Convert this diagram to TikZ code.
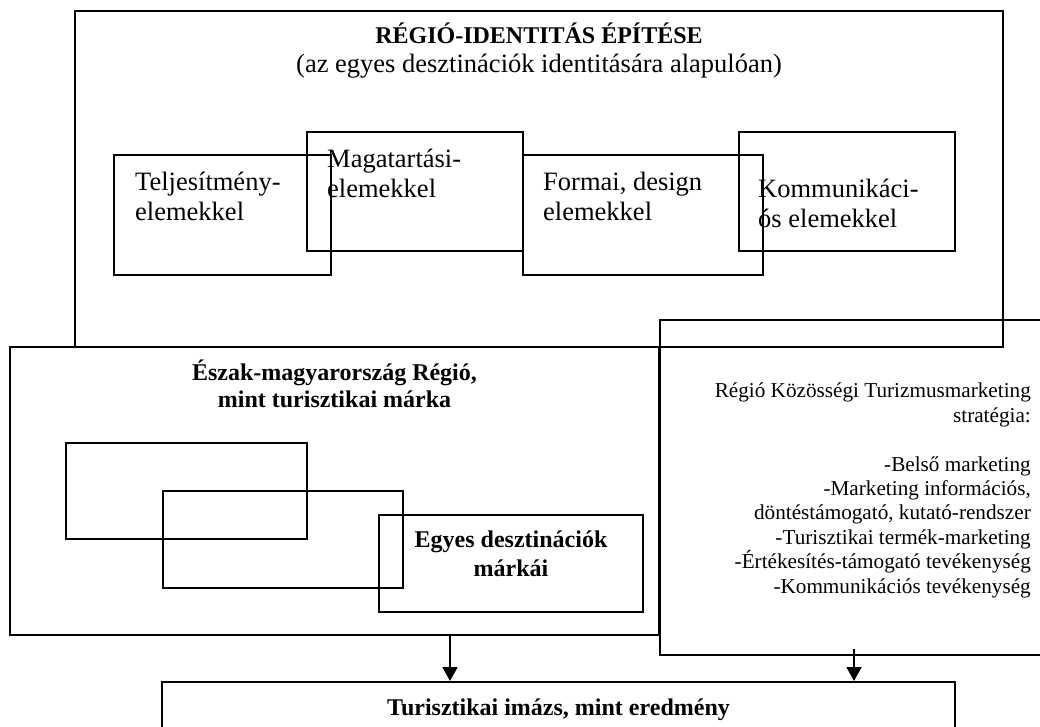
\documentclass[tikz,border=0pt]{standalone}
\usepackage{fontspec}
\setmainfont{Liberation Serif}
\usepackage{tikz}
\usetikzlibrary{arrows.meta,positioning}
\tikzset{
  box/.style={draw, line width=2pt, inner sep=0pt, anchor=north west},
  txt/.style={inner sep=0pt, align=left, font=\fontsize{26.5}{30}\selectfont},
  head/.style={inner sep=0pt, align=center, font=\bfseries\fontsize{24}{28}\selectfont},
  plain/.style={inner sep=0pt, align=right, font=\fontsize{21.2}{24.4}\selectfont},
  arrow/.style={-{Triangle[length=14pt, width=15pt]}, line width=1.8pt},
}
\begin{document}
\begin{tikzpicture}[x=1pt, y=-1pt]
\useasboundingbox (0,0) rectangle (1040,726);
\clip (0,0) rectangle (1040,726);

% Top: region identity
\node[box, minimum width=928pt, minimum height=336pt] (ident) at (74,10) {};
\node[head, anchor=base] (identtitle) at ([yshift=-33pt]ident.north) {RÉGIÓ-IDENTITÁS ÉPÍTÉSE};
\node[inner sep=0pt, anchor=base, font=\fontsize{26.5}{30}\selectfont] (identsub) at ([yshift=-62pt]ident.north) {(az egyes desztinációk identitására alapulóan)};

\node[box, minimum width=217pt, minimum height=120pt] (telj) at (113,154) {};
\node[box, minimum width=216pt, minimum height=119pt] (maga) at (306,131) {};
\node[box, minimum width=240pt, minimum height=120pt] (formai) at (522,154) {};
\node[box, minimum width=216pt, minimum height=119pt] (komm) at (738,131) {};
\node[txt, anchor=base west] (telj-t) at ([shift={(22,66)}]telj.north west) {Teljesítmény-\\elemekkel};
\node[txt, anchor=base west] (maga-t) at ([shift={(21,66)}]maga.north west) {Magatartási-\\elemekkel};
\node[txt, anchor=base west] (formai-t) at ([shift={(21,66)}]formai.north west) {Formai, design\\elemekkel};
\node[txt, anchor=base west] (komm-t) at ([shift={(20,96)}]komm.north west) {Kommunikáci-\\ós elemekkel};

% Left: region brand
\node[box, minimum width=649pt, minimum height=288pt] (eszak) at (9,346) {};
\node[head, anchor=base, font=\bfseries\fontsize{24}{27}\selectfont] (eszak-t) at ([yshift=-61pt]eszak.north) {Észak-magyarország Régió,\\mint turisztikai márka};
\node[box, minimum width=241pt, minimum height=96pt] (brand1) at (65,442) {};
\node[box, minimum width=240pt, minimum height=97pt] (brand2) at (162,490) {};
\node[box, minimum width=264pt, minimum height=97pt] (dest) at (378,514) {};
\node[head, anchor=base, font=\bfseries\fontsize{24}{29}\selectfont] (dest-t) at ([yshift=-62pt]dest.north) {Egyes desztinációk\\márkái};

% Right: marketing strategy
\node[box, minimum width=400pt, minimum height=335pt] (strat) at (659,319) {};
\node[plain, anchor=base east] (strat-t) at ([shift={(-30,274)}]strat.north east) {Régió Közösségi Turizmusmarketing\\stratégia:\\ \mbox{}\\-Belső marketing\\-Marketing információs,\\döntéstámogató, kutató-rendszer\\-Turisztikai termék-marketing\\-Értékesítés-támogató tevékenység\\-Kommunikációs tevékenység};

% Bottom: result
\node[box, minimum width=793pt, minimum height=70pt] (kep) at (161,681) {};
\node[head, anchor=base] (kep-t) at ([yshift=-34pt]kep.north) {Turisztikai imázs, mint eredmény};

\coordinate (arr1) at (450,0);
\coordinate (arr2) at (854,0);
\draw[arrow] (eszak.south -| arr1) -- (kep.north -| arr1);
\draw[arrow] (strat.south -| arr2) ++(0,-7) -- (kep.north -| arr2);
\end{tikzpicture}
\end{document}
